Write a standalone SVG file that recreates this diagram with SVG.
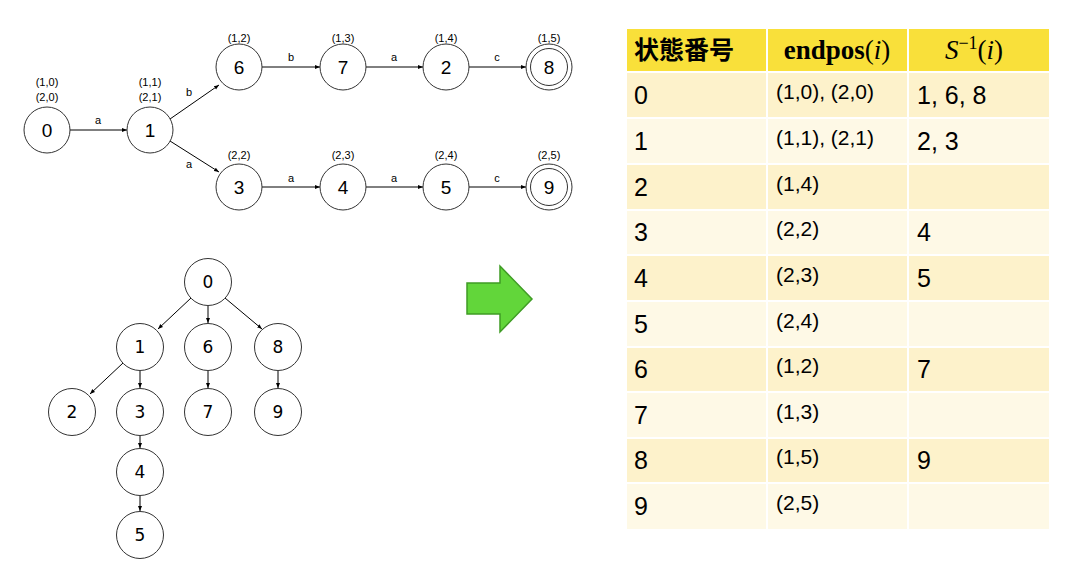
<svg xmlns="http://www.w3.org/2000/svg" width="1068" height="568" viewBox="0 0 1068 568">
<defs>
<marker id="ah" viewBox="0 0 10 10" refX="10" refY="5" markerWidth="5" markerHeight="5" orient="auto" markerUnits="userSpaceOnUse">
<path d="M0,1 L10,5 L0,9 z" fill="#000"/>
</marker>
<style>
.n{fill:#fff;stroke:#333;stroke-width:1}
.nt{font-family:"Liberation Sans",Arial,sans-serif;font-size:19px;fill:#000;text-anchor:middle}
.tt{font-family:"DejaVu Sans",Verdana,sans-serif;font-size:17px;fill:#000;text-anchor:middle}
.lab{font-family:"Liberation Sans",Arial,sans-serif;font-size:11px;fill:#000;text-anchor:middle}
.e{stroke:#000;stroke-width:1;fill:none;marker-end:url(#ah)}
.hd{fill:#F9E03A}
.r1{fill:#FDF2CB}
.r2{fill:#FEF9E6}
.big{font-family:"Liberation Sans",Arial,sans-serif;font-size:25px;fill:#000}
.sm{font-family:"Liberation Sans",Arial,sans-serif;font-size:21px;fill:#000}
</style>
</defs>
<rect width="1068" height="568" fill="#fff"/>

<g id="connectors">
<line class="e" x1="70" y1="130" x2="127" y2="130"/>
<line class="e" x1="170" y1="119" x2="219" y2="85"/>
<line class="e" x1="170" y1="141" x2="219" y2="172"/>
<line class="e" x1="262" y1="67" x2="320" y2="67"/>
<line class="e" x1="366" y1="67" x2="423" y2="67"/>
<line class="e" x1="469" y1="67" x2="526" y2="67"/>
<line class="e" x1="262" y1="187" x2="320" y2="187"/>
<line class="e" x1="366" y1="187" x2="423" y2="187"/>
<line class="e" x1="469" y1="187" x2="526" y2="187"/>
<line class="e" x1="191" y1="298" x2="158" y2="329"/>
<line class="e" x1="208" y1="306" x2="208" y2="323"/>
<line class="e" x1="225" y1="298" x2="262" y2="329"/>
<line class="e" x1="123" y1="363" x2="90" y2="394"/>
<line class="e" x1="140" y1="371" x2="140" y2="388"/>
<line class="e" x1="208" y1="371" x2="208" y2="388"/>
<line class="e" x1="278" y1="371" x2="278" y2="388"/>
<line class="e" x1="140" y1="436" x2="140" y2="448"/>
<line class="e" x1="140" y1="496" x2="140" y2="511"/>
</g>
<g id="edge-labels">
<text class="lab" x="98" y="124">a</text>
<text class="lab" x="189" y="96">b</text>
<text class="lab" x="189" y="168">a</text>
<text class="lab" x="291" y="61">b</text>
<text class="lab" x="394" y="61">a</text>
<text class="lab" x="497" y="61">c</text>
<text class="lab" x="291" y="182">a</text>
<text class="lab" x="394" y="182">a</text>
<text class="lab" x="497" y="182">c</text>
</g>

<g id="a0"><circle class="n" cx="47" cy="130" r="23"/><text class="nt" x="47" y="137">0</text><text class="lab" x="47" y="86">(1,0)</text><text class="lab" x="47" y="101">(2,0)</text></g>
<g id="a1"><circle class="n" cx="150" cy="130" r="23"/><text class="nt" x="150" y="137">1</text><text class="lab" x="150" y="86">(1,1)</text><text class="lab" x="150" y="101">(2,1)</text></g>
<g id="a6"><circle class="n" cx="239" cy="67" r="23"/><text class="nt" x="239" y="74">6</text><text class="lab" x="239" y="42">(1,2)</text></g>
<g id="a7"><circle class="n" cx="343" cy="67" r="23"/><text class="nt" x="343" y="74">7</text><text class="lab" x="343" y="42">(1,3)</text></g>
<g id="a2"><circle class="n" cx="446" cy="67" r="23"/><text class="nt" x="446" y="74">2</text><text class="lab" x="446" y="42">(1,4)</text></g>
<g id="a8"><circle class="n" cx="549" cy="67" r="23"/><circle class="n" cx="549" cy="67" r="18.5"/><text class="nt" x="549" y="74">8</text><text class="lab" x="549" y="42">(1,5)</text></g>
<g id="a3"><circle class="n" cx="239" cy="187" r="23"/><text class="nt" x="239" y="194">3</text><text class="lab" x="239" y="159">(2,2)</text></g>
<g id="a4"><circle class="n" cx="343" cy="187" r="23"/><text class="nt" x="343" y="194">4</text><text class="lab" x="343" y="159">(2,3)</text></g>
<g id="a5"><circle class="n" cx="446" cy="187" r="23"/><text class="nt" x="446" y="194">5</text><text class="lab" x="446" y="159">(2,4)</text></g>
<g id="a9"><circle class="n" cx="549" cy="187" r="23"/><circle class="n" cx="549" cy="187" r="18.5"/><text class="nt" x="549" y="194">9</text><text class="lab" x="549" y="159">(2,5)</text></g>

<g id="t0"><circle class="n" cx="208" cy="282" r="23.5"/><text class="tt" x="208" y="288">0</text></g>
<g id="t1"><circle class="n" cx="140" cy="347" r="23.5"/><text class="tt" x="140" y="353">1</text></g>
<g id="t6"><circle class="n" cx="208" cy="347" r="23.5"/><text class="tt" x="208" y="353">6</text></g>
<g id="t8"><circle class="n" cx="278" cy="347" r="23.5"/><text class="tt" x="278" y="353">8</text></g>
<g id="t2"><circle class="n" cx="72" cy="412" r="23.5"/><text class="tt" x="72" y="418">2</text></g>
<g id="t3"><circle class="n" cx="140" cy="412" r="23.5"/><text class="tt" x="140" y="418">3</text></g>
<g id="t7"><circle class="n" cx="208" cy="412" r="23.5"/><text class="tt" x="208" y="418">7</text></g>
<g id="t9"><circle class="n" cx="278" cy="412" r="23.5"/><text class="tt" x="278" y="418">9</text></g>
<g id="t4"><circle class="n" cx="140" cy="472" r="23.5"/><text class="tt" x="140" y="478">4</text></g>
<g id="t5"><circle class="n" cx="140" cy="535" r="23.5"/><text class="tt" x="140" y="541">5</text></g>

<g id="arrow">
<polygon points="467,283 500,283 500,266 532,299 500,332 500,314 467,314" fill="#62D63A" stroke="#3F9C25" stroke-width="1.5"/>
</g>

<g id="table">
<rect class="hd" x="627" y="29" width="422" height="43"/>
<rect class="r1" x="627" y="72" width="422" height="46"/>
<rect class="r2" x="627" y="118" width="422" height="46"/>
<rect class="r1" x="627" y="164" width="422" height="46"/>
<rect class="r2" x="627" y="210" width="422" height="45"/>
<rect class="r1" x="627" y="255" width="422" height="46"/>
<rect class="r2" x="627" y="301" width="422" height="46"/>
<rect class="r1" x="627" y="347" width="422" height="45"/>
<rect class="r2" x="627" y="392" width="422" height="46"/>
<rect class="r1" x="627" y="438" width="422" height="45"/>
<rect class="r2" x="627" y="483" width="422" height="46"/>
<g stroke="#fff" stroke-width="2">
<line x1="767" y1="29" x2="767" y2="529"/>
<line x1="908" y1="29" x2="908" y2="529"/>
<line x1="627" y1="72" x2="1049" y2="72"/>
<line x1="627" y1="118" x2="1049" y2="118"/>
<line x1="627" y1="164" x2="1049" y2="164"/>
<line x1="627" y1="210" x2="1049" y2="210"/>
<line x1="627" y1="255" x2="1049" y2="255"/>
<line x1="627" y1="301" x2="1049" y2="301"/>
<line x1="627" y1="347" x2="1049" y2="347"/>
<line x1="627" y1="392" x2="1049" y2="392"/>
<line x1="627" y1="438" x2="1049" y2="438"/>
<line x1="627" y1="483" x2="1049" y2="483"/>
</g>
<text x="634" y="59" font-family="'Noto Sans CJK JP',sans-serif" font-weight="bold" font-size="25" fill="#000">状態番号</text>
<text x="837" y="59" text-anchor="middle" font-family="'Liberation Serif',serif" font-size="27" fill="#000"><tspan font-weight="bold">endpos</tspan>(<tspan font-style="italic">i</tspan>)</text>
<text x="974" y="59" text-anchor="middle" font-family="'Liberation Serif',serif" font-size="27" fill="#000"><tspan font-style="italic">S</tspan><tspan font-size="18" dy="-10">−1</tspan><tspan dy="10">(</tspan><tspan font-style="italic">i</tspan>)</text>

<text class="big" x="634" y="104">0</text><text class="sm" x="776" y="99">(1,0), (2,0)</text><text class="big" x="917" y="104">1, 6, 8</text>
<text class="big" x="634" y="150">1</text><text class="sm" x="776" y="145">(1,1), (2,1)</text><text class="big" x="917" y="150">2, 3</text>
<text class="big" x="634" y="196">2</text><text class="sm" x="776" y="191">(1,4)</text>
<text class="big" x="634" y="241">3</text><text class="sm" x="776" y="236">(2,2)</text><text class="big" x="917" y="241">4</text>
<text class="big" x="634" y="287">4</text><text class="sm" x="776" y="282">(2,3)</text><text class="big" x="917" y="287">5</text>
<text class="big" x="634" y="333">5</text><text class="sm" x="776" y="328">(2,4)</text>
<text class="big" x="634" y="378">6</text><text class="sm" x="776" y="373">(1,2)</text><text class="big" x="917" y="378">7</text>
<text class="big" x="634" y="424">7</text><text class="sm" x="776" y="419">(1,3)</text>
<text class="big" x="634" y="469">8</text><text class="sm" x="776" y="464">(1,5)</text><text class="big" x="917" y="469">9</text>
<text class="big" x="634" y="515">9</text><text class="sm" x="776" y="510">(2,5)</text>
</g>
</svg>
